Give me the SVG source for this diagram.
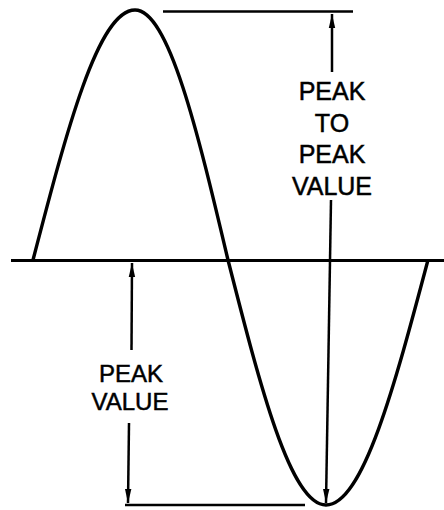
<svg xmlns="http://www.w3.org/2000/svg" width="444" height="510" viewBox="0 0 444 510">
<style>
.ln{stroke:#000;stroke-width:2.5;fill:none;stroke-linecap:butt}
.wave{stroke:#000;stroke-width:3.4;fill:none;stroke-linejoin:round}
.lbl{font-family:"Liberation Sans",Arial,sans-serif;font-size:25px;fill:#000;stroke:#000;stroke-width:0.5;text-anchor:middle}
</style>
<defs>
<marker id="ah" markerUnits="userSpaceOnUse" viewBox="0 0 14 8" refX="14" refY="4" markerWidth="14" markerHeight="8" orient="auto">
<path d="M0,0.8 L14,4 L0,7.2 Z" fill="#000"/>
</marker>
</defs>
<rect width="444" height="510" fill="#fff"/>
<g id="axis">
<line class="ln" x1="11" y1="260.5" x2="444" y2="260.5" style="stroke-width:3"/>
</g>
<g id="wave">
<path class="wave" d="M33,260 C66.3,131.9 98.1,10 135,10 C168.7,10 197.7,131.9 228,260 C260,385.5 290.5,505 326,505 C362.9,505 394.7,385.5 428,260"/>
</g>
<g id="refs">
<line class="ln" x1="163" y1="11.5" x2="353" y2="11.5"/>
<line class="ln" x1="125" y1="505" x2="305" y2="505"/>
</g>
<g id="connectors">
<line class="ln" x1="332" y1="72" x2="332" y2="14" marker-end="url(#ah)"/>
<line class="ln" x1="331" y1="200" x2="326" y2="503" marker-end="url(#ah)"/>
<line class="ln" x1="131.5" y1="350" x2="132" y2="263" marker-end="url(#ah)"/>
<line class="ln" x1="129" y1="423" x2="128" y2="503" marker-end="url(#ah)"/>
</g>
<g id="label-ptp">
<text class="lbl" x="332" y="100">PEAK</text>
<text class="lbl" x="332" y="132">TO</text>
<text class="lbl" x="332" y="163">PEAK</text>
<text class="lbl" x="332" y="195">VALUE</text>
</g>
<g id="label-peak">
<text class="lbl" x="131" y="382" style="font-size:24px">PEAK</text>
<text class="lbl" x="130" y="410" style="font-size:24px">VALUE</text>
</g>
</svg>
